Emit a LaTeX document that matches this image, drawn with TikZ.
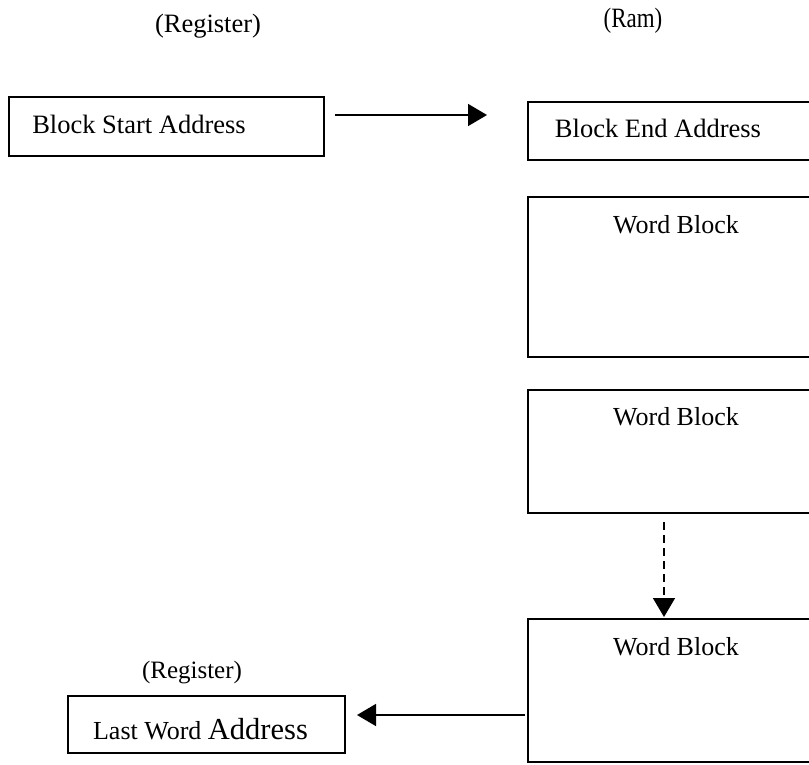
\documentclass[tikz,border=0pt]{standalone}
\usepackage{fontspec}
\setmainfont{Liberation Serif}
\usetikzlibrary{arrows.meta}

\tikzset{
  blockbox/.style={draw=black, line width=1.6pt, rectangle, inner sep=0pt, outer sep=0pt},
  lbl/.style={anchor=base, inner sep=0pt, font=\fontsize{26.5}{28}\selectfont},
  flow/.style={line width=1.6pt, -{Triangle[length=19pt,width=22pt]}},
  flowdash/.style={flow, dash pattern=on 8pt off 5pt}
}

\begin{document}
\begin{tikzpicture}[x=1pt, y=-1pt]
  \useasboundingbox (0,0) rectangle (809,764);
  \clip (0,0) rectangle (809,764);
  \fill[white] (0,0) rectangle (809,764);

  % boxes
  \node[blockbox, minimum width=315pt, minimum height=59pt]  (start) at (166.5,126.5) {};
  \node[blockbox, minimum width=284pt, minimum height=58pt]  (bend)  at (670,131) {};
  \node[blockbox, minimum width=284pt, minimum height=160pt] (wb1)   at (670,277) {};
  \node[blockbox, minimum width=284pt, minimum height=123pt] (wb2)   at (670,451.5) {};
  \node[blockbox, minimum width=284pt, minimum height=143pt] (wb3)   at (670,690.5) {};
  \node[blockbox, minimum width=277pt, minimum height=57pt]  (last)  at (206.5,724.5) {};

  % headings
  \node[lbl] (hreg)  at (208,32) {(Register)};
  \node[lbl, font=\fontsize{28}{30}\selectfont] (hram) at (633,27) {\scalebox{0.82}[1]{(Ram)}};
  \node[lbl, font=\fontsize{25}{27}\selectfont] (hreg2) at (192,678) {(Register)};

  % box texts
  \node[lbl] (tstart) at (139,133) {Block Start Address};
  \node[lbl] (tend)   at (658,137) {Block End Address};
  \node[lbl, font=\fontsize{26}{28}\selectfont] (twb1) at (676,233) {Word Block};
  \node[lbl, font=\fontsize{26}{28}\selectfont] (twb2) at (676,425) {Word Block};
  \node[lbl, font=\fontsize{26}{28}\selectfont] (twb3) at (676,655) {Word Block};
  \node[lbl, font=\fontsize{26}{28}\selectfont] (tlast) at (200.5,739)
       {Last Word {\fontsize{30.5}{32}\selectfont Address}};

  % connectors
  \draw[flow, shorten >=41pt]
    ([xshift=11pt, yshift=11.5pt]start.east) -- ([yshift=11.5pt]start.east -| bend.west);
  \draw[flowdash, shorten >=2pt]
    ([xshift=-6pt, yshift=-9pt]wb2.south) -- ([xshift=-6pt]wb3.north);
  \draw[flow, shorten >=12pt]
    ([xshift=-3pt, yshift=-24.5pt]wb3.west) -- ([yshift=-24.5pt]wb3.west -| last.east);
\end{tikzpicture}
\end{document}
